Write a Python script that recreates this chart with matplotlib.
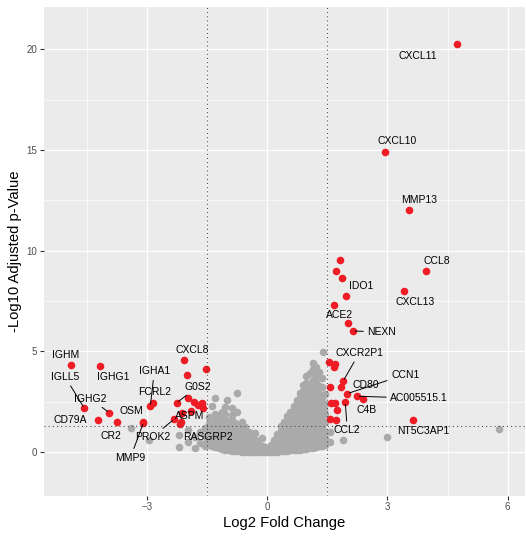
import matplotlib
matplotlib.use("Agg")
import matplotlib.pyplot as plt
from matplotlib.ticker import MultipleLocator

plt.rcParams['font.family'] = ['Liberation Sans', 'DejaVu Sans']

# ---------------- data ----------------
# significant genes (red)
sig_genes = ["CXCL11", "CXCL10", "MMP13", "CCL8", "CXCL13", "r1", "r2", "r3", "IDO1", "ACE2",
             "r4", "NEXN", "r5", "r6", "r7", "CXCR2P1", "CD80", "r8", "CCN1", "AC005515.1",
             "C4B", "r9", "CCL2", "r10", "r11", "r12", "r13", "NT5C3AP1",
             "IGHM", "IGHG1", "IGLL5", "IGHG2", "CD79A", "CR2", "MMP9", "OSM",
             "FCRL2", "IGHA1", "CXCL8", "l1", "l2", "G0S2", "l3", "l4", "l5", "l6", "l7",
             "l8", "l9", "PROK2", "ASPM", "RASGRP2"]
sig_lfc = [4.74, 2.94, 3.54, 3.97, 3.42, 1.81, 1.72, 1.88, 1.96, 1.67,
           2.01, 2.14, 1.54, 1.70, 1.67, 1.90, 1.85, 1.58, 2.00, 2.25,
           2.39, 1.70, 1.95, 1.59, 1.75, 1.56, 1.71, 3.63,
           -4.88, -4.16, -4.56, -3.93, -4.22, -3.75, -3.08, -3.08,
           -2.84, -2.91, -2.08, -1.53, -1.99, -2.25, -1.98, -1.81, -1.63, -1.73, -1.59,
           -2.13, -1.90, -2.31, -2.14, -2.17]
sig_p = [20.27, 14.90, 12.04, 8.99, 7.98, 9.52, 8.99, 8.66, 7.73, 7.32,
         6.42, 6.01, 4.47, 4.39, 4.21, 3.53, 3.24, 3.24, 2.90, 2.77,
         2.63, 2.43, 2.47, 2.43, 2.07, 1.62, 1.59, 1.59,
         4.34, 4.29, 2.19, 1.95, 1.57, 1.47, 1.46, 1.48,
         2.45, 2.27, 4.56, 4.14, 3.81, 2.45, 2.68, 2.48, 2.45, 2.33, 2.17,
         1.95, 2.04, 1.64, 1.47, 1.39]

# non-significant genes (grey), listed by columns of log2FC
ns_lfc = (
    [-3.40, -2.94, -2.19, -2.19, -1.96, -1.96, -1.80, -1.80, -1.67, -1.67, -1.55, -1.55, -1.55]
    + [-1.45] * 5 + [-1.38] * 5 + [-1.30] * 7 + [-1.21] * 6 + [-1.13] * 7 + [-1.05] * 8
    + [-1.00] + [-0.95] * 6 + [-0.88] * 8 + [-0.80] * 6 + [-0.76] * 2 + [-0.70] * 6
    + [-0.62] * 6 + [-0.55] * 6 + [-0.45] * 5 + [-0.37] * 5 + [-0.30] * 5 + [-0.22] * 4
    + [-0.13] * 4 + [-0.05] * 3 + [0.03] * 3
    + [0.10] * 3 + [0.18] * 4 + [0.26] * 5 + [0.34] * 6 + [0.42] * 7 + [0.50] * 8
    + [0.58] * 9 + [0.66] * 10 + [0.74] * 11 + [0.82] * 12 + [0.90] * 13 + [0.98] * 14
    + [1.06] * 14 + [1.14] * 14 + [1.22] * 13 + [1.30] * 11 + [1.38] * 9 + [1.45] * 7
    + [1.40, 1.58, 1.58, 1.90, 2.99, 5.79]
    + [-1.50, -1.25, -1.17, -1.00, -0.84, -0.66, -0.50, -0.41, -0.26, -0.17, -0.09]
    + [0.06, 0.14, 0.22, 0.30, 0.38, 0.46, 0.54, 0.62, 0.70, 0.78, 0.86, 0.94, 1.02, 1.10,
       1.18, 1.26, 1.34, 1.42]
)
ns_p = (
    [1.18, 0.60, 0.26, 0.84, 1.09, 0.50, 0.18, 0.75, 1.01, 0.45, 0.30, 0.80, 1.20]
    + [0.35, 0.70, 1.05, 1.40, 1.75]
    + [0.30, 0.65, 1.00, 1.35, 2.30]
    + [0.25, 0.55, 0.90, 1.25, 1.55, 1.90, 2.67]
    + [0.20, 0.50, 0.85, 1.18, 1.50, 1.85]
    + [0.15, 0.45, 0.80, 1.10, 1.40, 1.67, 2.00]
    + [0.10, 0.40, 0.70, 1.00, 1.30, 1.60, 1.90, 2.25]
    + [2.58]
    + [0.10, 0.40, 0.70, 1.00, 1.25, 1.55]
    + [0.05, 0.35, 0.65, 0.95, 1.25, 1.59, 1.85, 2.17]
    + [0.05, 0.30, 0.60, 0.90, 1.20, 1.45]
    + [1.97, 2.95]
    + [0.05, 0.30, 0.55, 0.85, 1.10, 1.35]
    + [0.00, 0.25, 0.50, 0.80, 1.05, 1.50]
    + [0.00, 0.25, 0.50, 0.75, 1.00, 1.26]
    + [0.00, 0.20, 0.45, 0.70, 1.00]
    + [0.00, 0.20, 0.40, 0.65, 0.85]
    + [0.00, 0.20, 0.40, 0.60, 0.93]
    + [0.00, 0.15, 0.35, 0.55]
    + [0.00, 0.15, 0.30, 0.68]
    + [0.00, 0.10, 0.25]
    + [0.00, 0.10, 0.20]
    + [0.00, 0.15, 0.35]
    + [0.00, 0.20, 0.40, 0.60]
    + [0.00, 0.20, 0.45, 0.70, 0.90]
    + [0.05, 0.30, 0.55, 0.80, 1.05, 1.30]
    + [0.05, 0.30, 0.55, 0.80, 1.05, 1.30, 1.50]
    + [0.05, 0.30, 0.55, 0.80, 1.05, 1.30, 1.55, 1.80]
    + [0.10, 0.35, 0.60, 0.85, 1.10, 1.35, 1.60, 1.85, 2.00]
    + [0.10, 0.35, 0.60, 0.85, 1.10, 1.35, 1.60, 1.85, 2.10, 2.30]
    + [0.10, 0.35, 0.60, 0.85, 1.10, 1.35, 1.60, 1.85, 2.10, 2.35, 2.60]
    + [0.10, 0.40, 0.65, 0.90, 1.15, 1.40, 1.65, 1.90, 2.15, 2.40, 2.70, 2.95]
    + [0.15, 0.40, 0.65, 0.90, 1.15, 1.40, 1.65, 1.90, 2.15, 2.45, 2.75, 3.05, 3.35]
    + [0.15, 0.45, 0.70, 0.95, 1.20, 1.45, 1.70, 1.95, 2.20, 2.50, 2.80, 3.10, 3.45, 3.75]
    + [0.20, 0.45, 0.70, 1.00, 1.25, 1.50, 1.75, 2.00, 2.25, 2.50, 2.80, 3.10, 3.40, 3.90]
    + [0.20, 0.50, 0.75, 1.00, 1.30, 1.55, 1.80, 2.05, 2.30, 2.60, 3.08, 3.60, 4.10, 4.40]
    + [0.25, 0.50, 0.80, 1.05, 1.30, 1.60, 1.85, 2.25, 2.75, 3.20, 3.49, 3.80, 4.24]
    + [0.30, 0.55, 0.85, 1.10, 1.42, 1.84, 2.00, 2.50, 2.90, 3.30, 3.99]
    + [0.30, 0.60, 0.93, 1.20, 1.60, 2.20, 2.67, 3.24, 3.70]
    + [0.35, 0.70, 1.00, 1.50, 1.90, 2.40, 2.90]
    + [4.98, 0.50, 1.00, 0.61, 0.73, 1.14]
    + [0.55, 1.10, 0.65, 1.30, 1.05, 0.85, 0.60, 0.55, 0.30, 0.25, 0.05]
    + [0.05, 0.10, 0.30, 0.45, 0.70, 0.95, 1.20, 1.45, 1.70, 1.95, 2.20, 2.55, 2.90, 3.25,
       3.35, 2.95, 2.60, 2.10]
)

lfc_cut = 1.5
p_cut = 1.301  # -log10(0.05)

x_ticks = [-3, 0, 3, 6]
y_ticks = [0, 5, 10, 15, 20]

# label placement (offset in pixels from the point, line drawn or not)
label_layout = {
    "CXCL11": (-39, -12, False), "CXCL10": (12, 11, False), "MMP13": (10, 10, False),
    "CCL8": (10, 10, False), "CXCL13": (11, -11, False), "IDO1": (16, 10, False),
    "ACE2": (6, -10, False), "NEXN": (29, -1, True), "CXCR2P1": (16, 28, True),
    "CD80": (25, 2, False), "CCN1": (58, 19, True), "AC005515.1": (62, -2, True),
    "C4B": (4, -11, False), "CCL2": (2, -28, True), "NT5C3AP1": (11, -11, False),
    "IGHM": (-6, 10, False), "IGHG1": (13, -11, False), "IGLL5": (-19, 31, True),
    "IGHG2": (-19, 14, True), "CD79A": (-28, 0, False), "CR2": (-6, -14, False),
    "MMP9": (-13, -35, True), "OSM": (-12, 11, False), "FCRL2": (2, 11, False),
    "IGHA1": (4, 35, True), "CXCL8": (9, 10, False), "G0S2": (21, 16, True),
    "PROK2": (-22, -18, True), "ASPM": (8, 6, False), "RASGRP2": (28, -13, False),
}

# ---------------- figure ----------------
W, H = 526, 536
fig = plt.figure(figsize=(W / 100, H / 100), dpi=100)
L, R, T, B = 44, 525, 7, 495.5
ax = fig.add_axes([L / W, 1 - B / H, (R - L) / W, (B - T) / H])
ax.set_facecolor('#EBEBEB')
for s in ax.spines.values():
    s.set_visible(False)

ax.set_xlim(-5.56, 6.43)
ax.set_ylim(-2.16, 22.1)
ax.set_xticks(x_ticks)
ax.set_yticks(y_ticks)
ax.xaxis.set_minor_locator(MultipleLocator(1.5))
ax.yaxis.set_minor_locator(MultipleLocator(2.5))
ax.grid(which='major', color='white', lw=0.9, zorder=0)
ax.grid(which='minor', color='white', lw=0.45, zorder=0)
ax.set_axisbelow(True)
ax.tick_params(which='major', length=2.8, width=0.8, color='#333333',
               labelsize=7, labelcolor='#4D4D4D', pad=2)
ax.tick_params(which='minor', length=0)

ax.scatter(ns_lfc, ns_p, s=30, color='#AAAAAA', linewidths=0, zorder=2)
ax.scatter(sig_lfc, sig_p, s=30, color='#EE1C24', linewidths=0, zorder=2.5)

dot_style = dict(color='#444444', lw=0.75, linestyle=(0, (1, 3)), zorder=3)
ax.axvline(-lfc_cut, **dot_style)
ax.axvline(lfc_cut, **dot_style)
ax.axhline(p_cut, **dot_style)

for g, x, y in zip(sig_genes, sig_lfc, sig_p):
    if g not in label_layout:
        continue
    dx, dy, line = label_layout[g]
    kw = {}
    if line:
        kw['arrowprops'] = dict(arrowstyle='-', color='black', lw=0.7,
                                shrinkA=1, shrinkB=1.5)
    ax.annotate(g, (x, y), xytext=(dx, dy), textcoords='offset pixels',
                ha='center', va='center', fontsize=7.5, color='black', zorder=4, **kw)

ax.set_xlabel('Log2 Fold Change', fontsize=10.7, labelpad=3)
ax.set_ylabel('-Log10 Adjusted p-Value', fontsize=10.7, labelpad=3)

fig.savefig('out.png', dpi=100)
